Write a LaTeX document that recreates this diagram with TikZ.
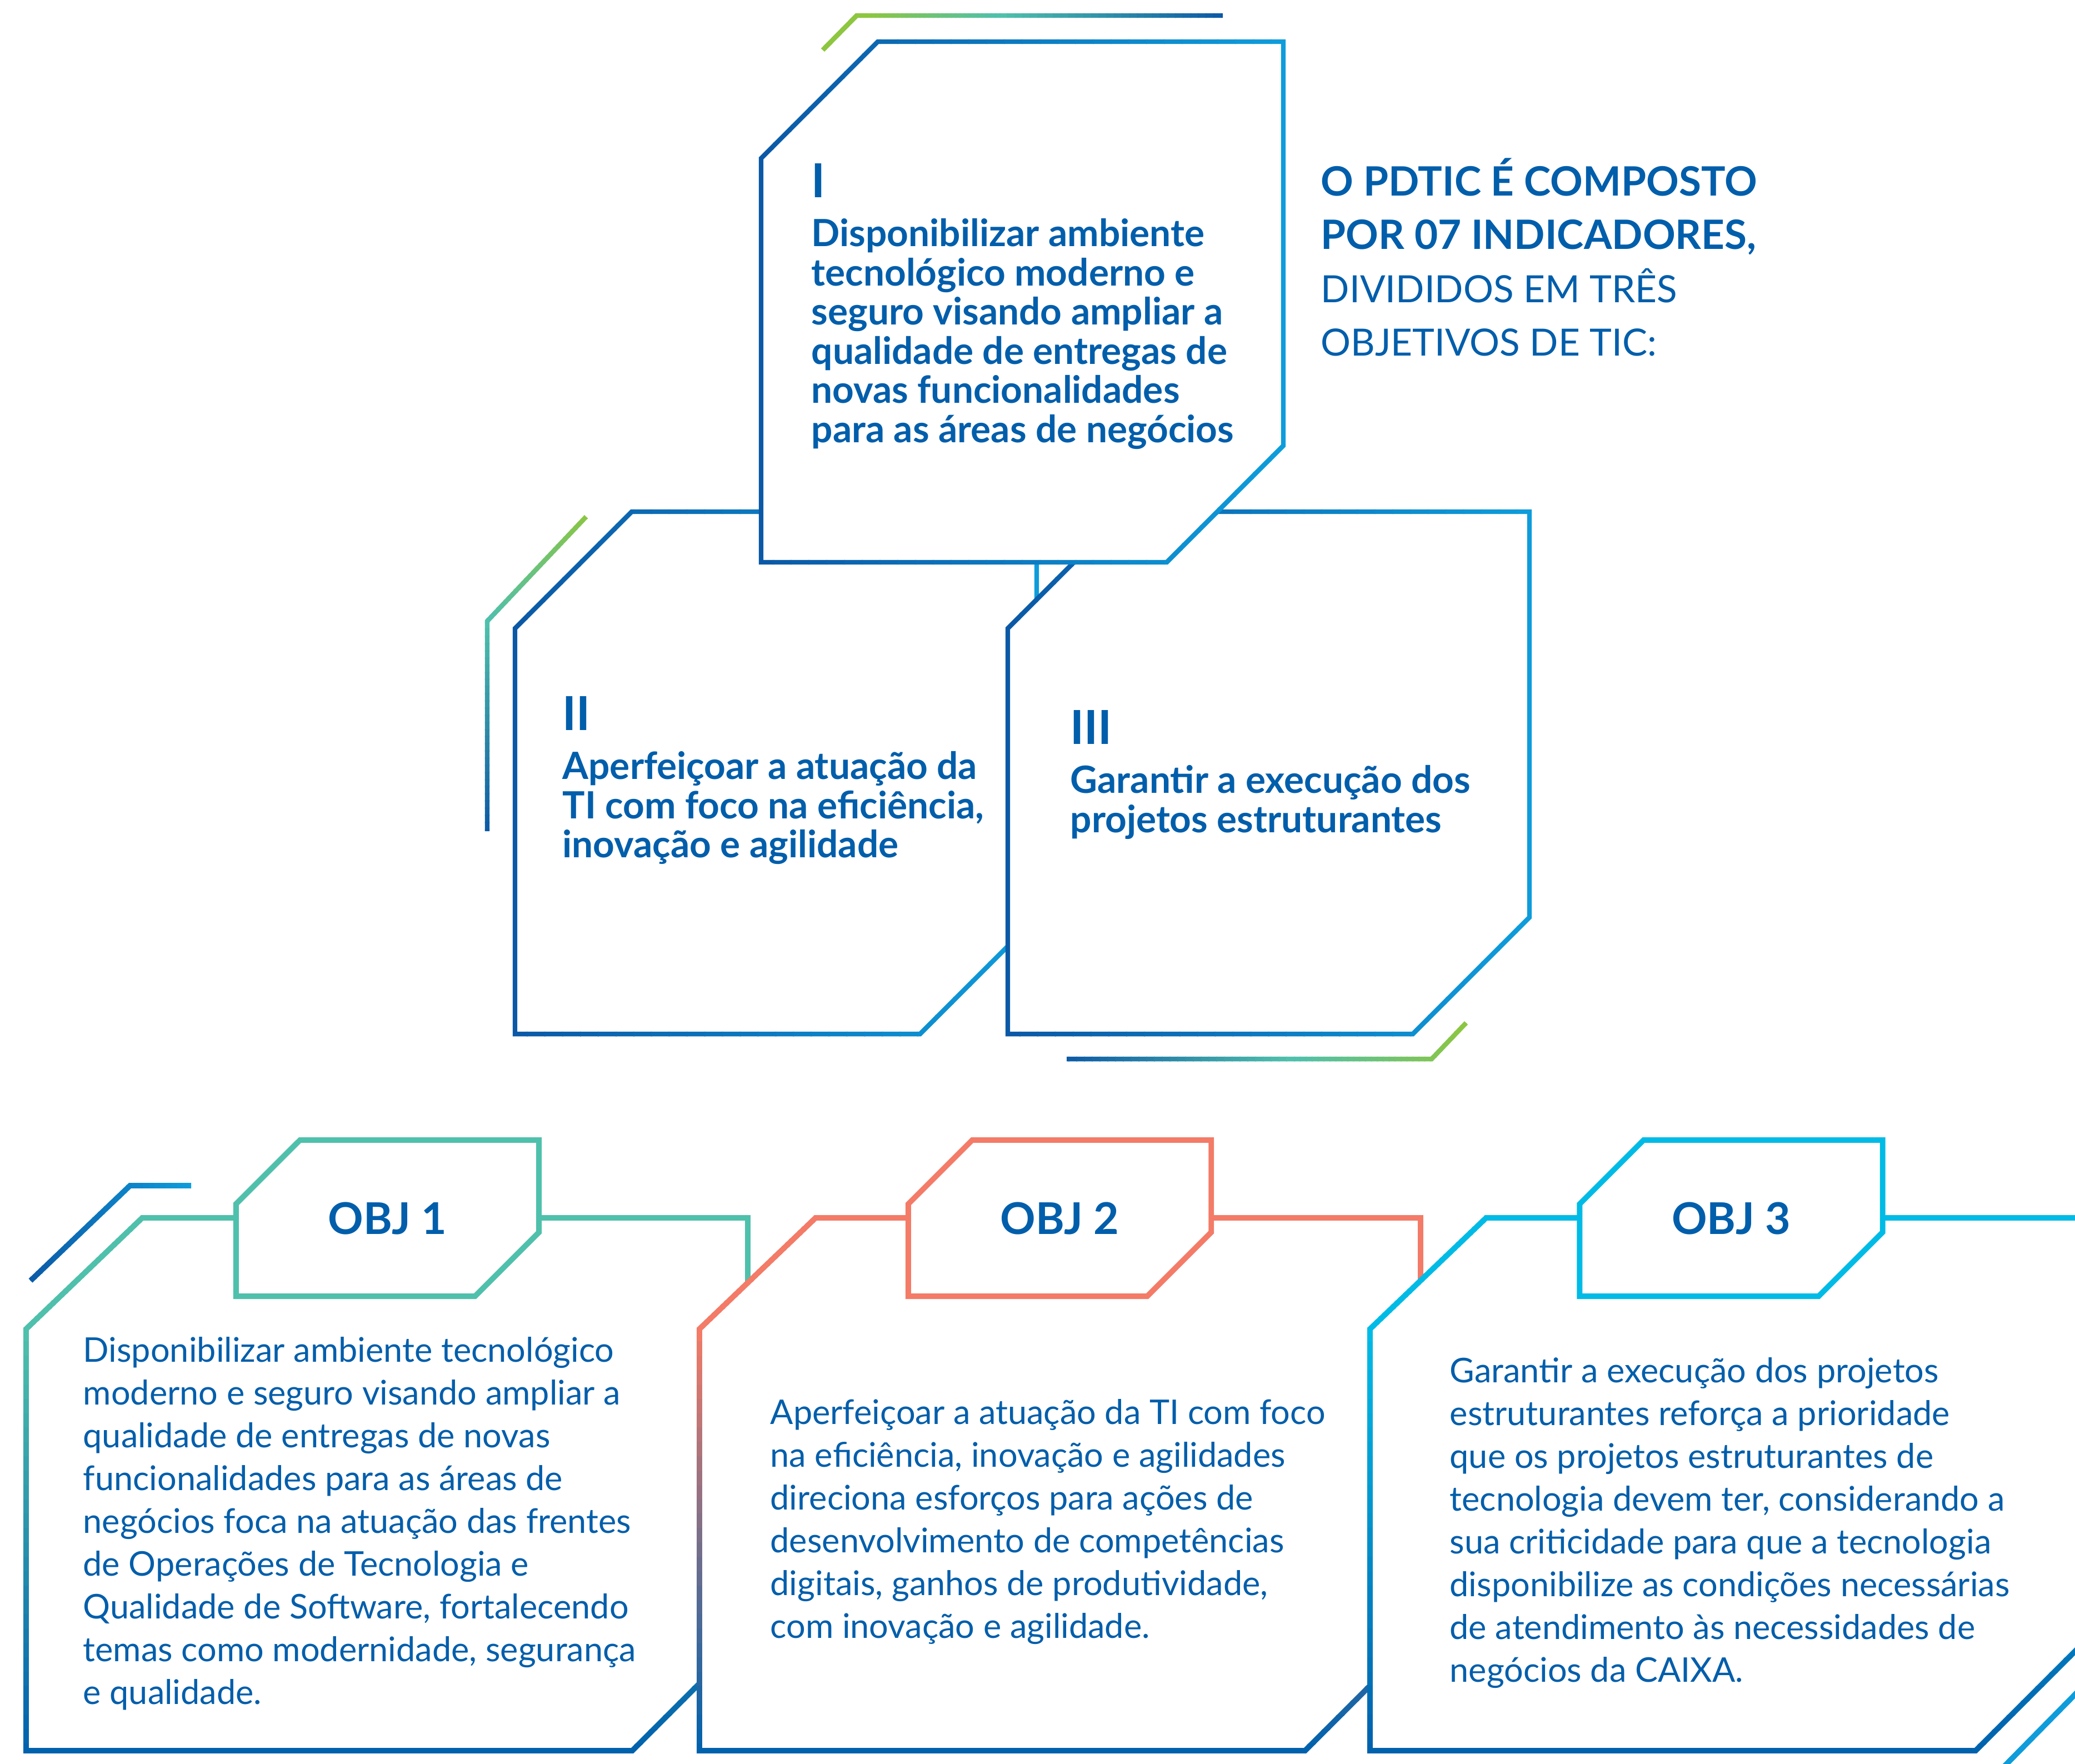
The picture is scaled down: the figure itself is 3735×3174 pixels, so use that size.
\documentclass[tikz,border=0pt]{standalone}
\usepackage{fontspec}
\setmainfont{Lato}
\usepackage{xcolor}
\usepackage{tikz}
\usetikzlibrary{positioning, shapes.misc}

\definecolor{txtblue}{HTML}{005EAB}
\definecolor{dkblue}{HTML}{0B59A6}
\definecolor{ltblue}{HTML}{0E9CDB}
\definecolor{leaf}{HTML}{8DC63F}
\definecolor{sea}{HTML}{4FC0AB}
\definecolor{coral}{HTML}{F37B67}
\definecolor{sky}{HTML}{00BBE6}
\definecolor{deep}{HTML}{0062AD}

% stroke a path with a colour ramp, band by band (h = along x, v = along y)
\newcommand{\gradline}[6]{%
  \foreach \k in {1,...,30}{%
    \pgfmathsetmacro{\bandlo}{#5+(#6-#5)/30*(\k-1)-1}%
    \pgfmathsetmacro{\bandhi}{#5+(#6-#5)/30*\k+1}%
    \pgfmathtruncatemacro{\bandpc}{100-(\k-1)*100/29}%
    \begin{scope}
      \if#1h\clip (\bandlo,-100) rectangle (\bandhi,3300);%
      \else\clip (-100,\bandlo) rectangle (3900,\bandhi);\fi
      \draw[gline, draw=#3!\bandpc!#4] #2;
    \end{scope}}}
\newcommand{\gradbox}[6]{\fill[white] #2; \gradline{#1}{#2}{#3}{#4}{#5}{#6}}

\begin{document}
\begin{tikzpicture}[x=0.01cm, y=-0.01cm,
  gline/.style={line width=2.4pt, line join=miter},
  num/.style={anchor=base west, inner sep=0pt, text=txtblue,
              font=\fontsize{24}{28}\selectfont\bfseries},
  head/.style={anchor=north west, inner sep=0pt, align=left, text=txtblue,
               font=\fontsize{19.2}{20.06}\selectfont\bfseries},
  body/.style={anchor=north west, inner sep=0pt, align=left, text=txtblue,
               font=\fontsize{17.4}{21.9}\selectfont},
  tag/.style={chamfered rectangle, chamfered rectangle corners={north west,south east},
              chamfered rectangle sep=0.86cm, draw, fill=white, line width=2.8pt,
              minimum width=5.45cm, minimum height=2.81cm, inner sep=0pt,
              text=txtblue, font=\fontsize{22.4}{26}\selectfont\bfseries}
]
  \path[use as bounding box, fill=white] (0,0) rectangle (3735,3174);

  % the three objectives
  \gradline{v}{(1055,930) -- (877,1118) -- (877,1496)}{leaf}{sea}{920}{1120}
  \gradline{v}{(1055,930) -- (877,1118) -- (877,1496)}{sea}{dkblue}{1120}{1506}
  \gradbox{h}{(927,1131) -- (1137,921) -- (1866,921) -- (1866,1651) -- (1656,1861) -- (927,1861) -- cycle}{dkblue}{ltblue}{917}{1876}
  \gradbox{h}{(1814,1131) -- (2024,921) -- (2753,921) -- (2753,1651) -- (2543,1861) -- (1814,1861) -- cycle}{dkblue}{ltblue}{1804}{2763}
  \gradbox{h}{(1370,285) -- (1580,75) -- (2310,75) -- (2310,802) -- (2100,1012) -- (1370,1012) -- cycle}{dkblue}{ltblue}{1360}{2320}
  \gradline{h}{(1481,90) -- (1542,28) -- (2201,28)}{leaf}{leaf}{1470}{1560}
  \gradline{h}{(1481,90) -- (1542,28) -- (2201,28)}{leaf}{sea}{1560}{1800}
  \gradline{h}{(1481,90) -- (1542,28) -- (2201,28)}{sea}{dkblue}{1800}{2212}
  \gradline{h}{(1920,1906) -- (2577,1906) -- (2639,1841)}{dkblue}{sea}{1910}{2330}
  \gradline{h}{(1920,1906) -- (2577,1906) -- (2639,1841)}{sea}{leaf}{2330}{2650}

  \node[num] (numI) at (1460,355) {I};
  \node[head, below=9pt of numI.base west, anchor=north west] (txtI)
    {\rule{0pt}{16pt}Disponibilizar ambiente\\tecnológico moderno e\\seguro visando ampliar a\\qualidade de entregas de\\novas funcionalidades\\para as áreas de negócios};
  \node[num] (numII) at (1012,1314) {II};
  \node[head, below=9pt of numII.base west, anchor=north west] (txtII)
    {\rule{0pt}{16pt}Aperfeiçoar a atuação da\\TI com foco na eficiência,\\inovação e agilidade};
  \node[num] (numIII) at (1926,1339) {III};
  \node[head, below=9pt of numIII.base west, anchor=north west] (txtIII)
    {\rule{0pt}{16pt}Garantir a execução dos\\projetos estruturantes};

  \node[anchor=north west, inner sep=0pt, align=left, text=txtblue,
        font=\fontsize{19.2}{27.3}\selectfont] (title) at (2377,281)
    {\rule{0pt}{20pt}\textbf{\fontsize{20.7}{27.3}\selectfont O PDTIC É COMPOSTO}\\\textbf{\fontsize{20.7}{27.3}\selectfont POR 07 INDICADORES,}\\DIVIDIDOS EM TRÊS\\OBJETIVOS DE TIC:};

  % the three cards
  \begin{scope}[gline/.style={line width=2.8pt, line join=miter}]
    \gradline{h}{(55,2305) -- (234,2134) -- (344,2134)}{dkblue}{ltblue}{45}{350}
    \gradbox{v}{(47,2392) -- (256,2192) -- (1346,2192) -- (1346,2943) -- (1138,3151) -- (47,3151) -- cycle}{sea}{sea}{2180}{2390}
    \gradline{v}{(47,2392) -- (256,2192) -- (1346,2192) -- (1346,2943) -- (1138,3151) -- (47,3151) -- cycle}{sea}{deep}{2390}{3165}
    \node[tag, draw=sea] (obj1) at (697.5,2192.5) {OBJ 1};
    \gradbox{v}{(1259,2392) -- (1468,2192) -- (2557,2192) -- (2557,2943) -- (2349,3151) -- (1259,3151) -- cycle}{coral}{coral}{2180}{2390}
    \gradline{v}{(1259,2392) -- (1468,2192) -- (2557,2192) -- (2557,2943) -- (2349,3151) -- (1259,3151) -- cycle}{coral}{deep}{2390}{3165}
    \node[tag, draw=coral] (obj2) at (1907.5,2192.5) {OBJ 2};
    \gradbox{v}{(2466,2392) -- (2675,2192) -- (3764,2192) -- (3764,2943) -- (3556,3151) -- (2466,3151) -- cycle}{sky}{sky}{2180}{2390}
    \gradline{v}{(2466,2392) -- (2675,2192) -- (3764,2192) -- (3764,2943) -- (3556,3151) -- (2466,3151) -- cycle}{sky}{deep}{2390}{3165}
    \node[tag, draw=sky] (obj3) at (3116,2192.5) {OBJ 3};
    \draw[gline, ltblue] (3590,3197) -- (3790,2994);
  \end{scope}

  \node[body] (card1) at (149,2397)
    {\strut Disponibilizar ambiente tecnológico\\moderno e seguro visando ampliar a\\qualidade de entregas de novas\\funcionalidades para as áreas de\\negócios foca na atuação das frentes\\de Operações de Tecnologia e\\Qualidade de Software, fortalecendo\\temas como modernidade, segurança\\e qualidade.};
  \node[body] (card2) at (1386,2509)
    {\strut Aperfeiçoar a atuação da TI com foco\\na eficiência, inovação e agilidades\\direciona esforços para ações de\\desenvolvimento de competências\\digitais, ganhos de produtividade,\\com inovação e agilidade.};
  \node[body] (card3) at (2609,2434)
    {\strut Garantir a execução dos projetos\\estruturantes reforça a prioridade\\que os projetos estruturantes de\\tecnologia devem ter, considerando a\\sua criticidade para que a tecnologia\\disponibilize as condições necessárias\\de atendimento às necessidades de\\negócios da CAIXA.};
\end{tikzpicture}
\end{document}
